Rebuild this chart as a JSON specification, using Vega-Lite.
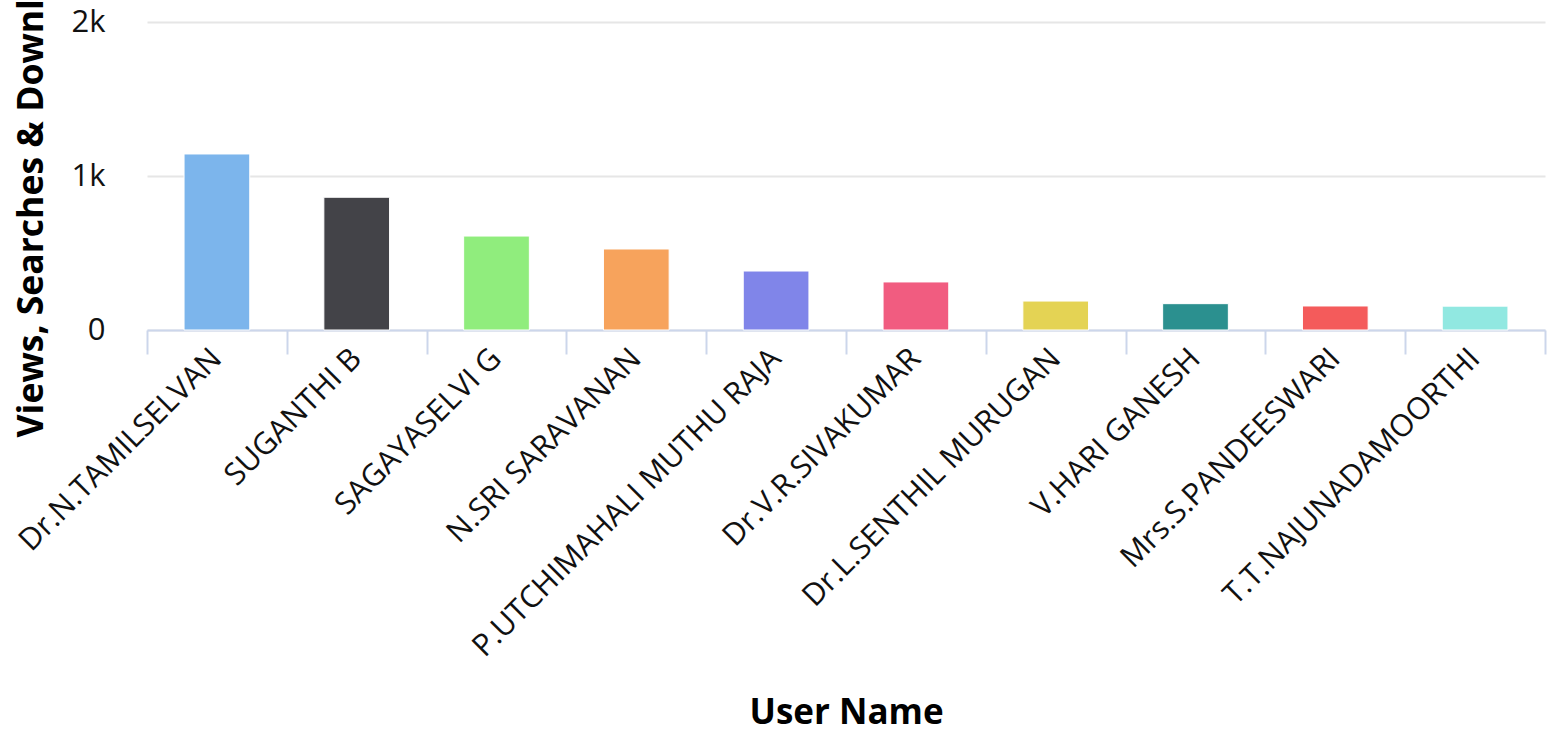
{
  "$schema": "https://vega.github.io/schema/vega-lite/v6.json",
  "autosize": {"type": "none"},
  "width": 1398,
  "height": 308,
  "padding": {"left": 147, "top": 22, "right": 17, "bottom": 402},
  "background": "white",
  "data": {
    "values": [
      {"user": "Dr.N.TAMILSELVAN", "count": 1143},
      {"user": "SUGANTHI B", "count": 862},
      {"user": "SAGAYASELVI G", "count": 610},
      {"user": "N.SRI SARAVANAN", "count": 526},
      {"user": "P.UTCHIMAHALI MUTHU RAJA", "count": 383},
      {"user": "Dr.V.R.SIVAKUMAR", "count": 312},
      {"user": "Dr.L.SENTHIL MURUGAN", "count": 188},
      {"user": "V.HARI GANESH", "count": 171},
      {"user": "Mrs.S.PANDEESWARI", "count": 156},
      {"user": "T.T.NAJUNADAMOORTHI", "count": 155}
    ]
  },
  "config": {
    "view": {"stroke": null},
    "font": "Open Sans"
  },
  "mark": {"type": "bar", "width": {"band": 0.47}, "stroke": "white", "strokeWidth": 1},
  "encoding": {
    "x": {
      "field": "user",
      "type": "nominal",
      "sort": null,
      "scale": {"paddingInner": 0, "paddingOuter": 0},
      "axis": {
        "title": "User Name",
        "titleFont": "Open Sans",
        "titleFontSize": 35,
        "titleFontWeight": "bold",
        "titleColor": "#000",
        "titleY": 365,
        "labelAngle": -45,
        "labelFontSize": 30.5,
        "labelColor": "#111",
        "labelPadding": -11,
        "labelOffset": -11,
        "labelLimit": 0,
        "tickBand": "extent",
        "tickSize": 24,
        "tickColor": "#ccd6eb",
        "tickWidth": 2,
        "domainColor": "#ccd6eb",
        "domainWidth": 2,
        "grid": false
      }
    },
    "y": {
      "field": "count",
      "type": "quantitative",
      "scale": {"domain": [0, 2000], "nice": false},
      "axis": {
        "title": "Views, Searches & Downloads",
        "titleFontSize": 35.5,
        "titleFontWeight": "bold",
        "titleColor": "#000",
        "titleX": -98,
        "values": [0, 1000, 2000],
        "labelExpr": "datum.value == 0 ? '0' : (datum.value / 1000) + 'k'",
        "labelFontSize": 31,
        "labelColor": "#111",
        "labelPadding": 42,
        "domain": false,
        "ticks": false,
        "gridColor": "#e6e6e6",
        "gridWidth": 2
      }
    },
    "color": {
      "field": "user",
      "type": "nominal",
      "sort": null,
      "legend": null,
      "scale": {
        "range": ["#7cb5ec", "#434348", "#90ed7d", "#f7a35c", "#8085e9", "#f15c80", "#e4d354", "#2b908f", "#f45b5b", "#91e8e1"]
      }
    }
  }
}
